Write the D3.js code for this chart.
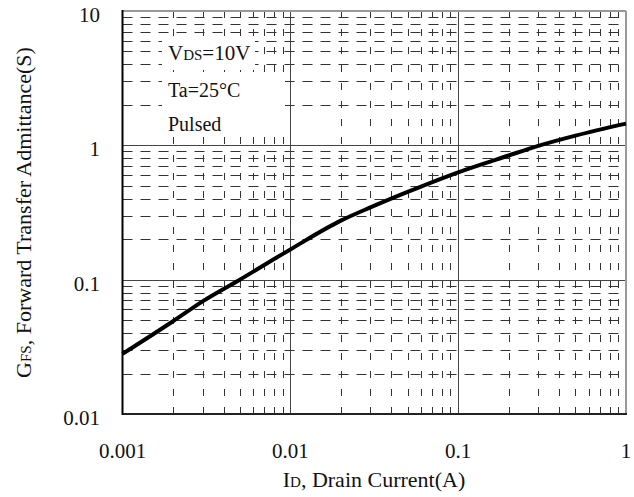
<!DOCTYPE html>
<html>
<head>
<meta charset="utf-8">
<script src="https://cdn.jsdelivr.net/npm/d3@7"></script>
<style>
  body { margin: 0; background: #fff; }
  svg text { font-family: "Liberation Serif", "DejaVu Serif", serif; fill: #111; }
</style>
</head>
<body>
<svg id="chart" width="634" height="497"></svg>
<script>
// drain current (A) and forward transfer admittance (S)
var currentA = [0.001, 0.002, 0.003, 0.005, 0.01, 0.02, 0.03, 0.05, 0.1, 0.2, 0.3, 0.5, 1]
var admittanceS = [0.028, 0.049, 0.069, 0.1, 0.168, 0.275, 0.345, 0.45, 0.63, 0.84, 0.99, 1.18, 1.45]

var xTicks = [0.001, 0.01, 0.1, 1]
var yTicks = [0.01, 0.1, 1, 10]
var xTickLabels = ['0.001', '0.01', '0.1', '1']
var yTickLabels = ['0.01', '0.1', '1', '10']
var notes = ['Ta=25°C', 'Pulsed']

var svg = d3.select('#chart')

var plotLeft = 122.5, plotRight = 626, plotTop = 11, plotBottom = 414

var x = d3.scaleLog().domain([0.001, 1]).range([plotLeft, plotRight])
var y = d3.scaleLog().domain([0.01, 10]).range([plotBottom, plotTop])

// minor values 2..9 in every decade
function minors (lo, hi) {
  var out = []
  for (var d = lo; d < hi * 0.999; d *= 10) {
    for (var k = 2; k <= 9; k++) out.push(d * k)
  }
  return out
}

var g = svg.append('g')

// horizontal dashed grid
g.selectAll('line.hminor')
  .data(minors(0.01, 10))
  .enter().append('line')
  .attr('x1', plotLeft).attr('x2', plotRight)
  .attr('y1', d => Math.round(y(d)) + 0.5).attr('y2', d => Math.round(y(d)) + 0.5)
  .style('stroke', '#333')
  .style('stroke-width', 1)
  .style('stroke-dasharray', '10,8')

// vertical dashed grid
g.selectAll('line.vminor')
  .data(minors(0.001, 1))
  .enter().append('line')
  .attr('x1', d => Math.round(x(d)) + 0.5).attr('x2', d => Math.round(x(d)) + 0.5)
  .attr('y1', plotTop).attr('y2', plotBottom)
  .style('stroke', '#333')
  .style('stroke-width', 1)
  .style('stroke-dasharray', '7,11')

// white boxes behind the notes
g.append('rect').attr('x', 162).attr('y', 37).attr('width', 93).attr('height', 33).style('fill', '#fff')
g.append('rect').attr('x', 162).attr('y', 79).attr('width', 123).attr('height', 57).style('fill', '#fff')

// decade lines
g.selectAll('line.vmajor')
  .data([0.01, 0.1])
  .enter().append('line')
  .attr('x1', d => Math.round(x(d)) + 0.5).attr('x2', d => Math.round(x(d)) + 0.5)
  .attr('y1', plotTop).attr('y2', plotBottom)
  .style('stroke', '#444').style('stroke-width', 1)

g.selectAll('line.hmajor')
  .data([0.1, 1])
  .enter().append('line')
  .attr('x1', plotLeft).attr('x2', plotRight)
  .attr('y1', d => Math.round(y(d)) + 0.5).attr('y2', d => Math.round(y(d)) + 0.5)
  .style('stroke', '#444').style('stroke-width', 1)

// frame
g.append('line').attr('x1', plotLeft).attr('x2', plotRight).attr('y1', plotTop).attr('y2', plotTop)
  .style('stroke', '#999').style('stroke-width', 2)
g.append('line').attr('x1', plotRight).attr('x2', plotRight).attr('y1', plotTop).attr('y2', plotBottom)
  .style('stroke', '#999').style('stroke-width', 2)
g.append('line').attr('x1', plotLeft).attr('x2', plotLeft).attr('y1', plotTop - 1).attr('y2', plotBottom + 1)
  .style('stroke', '#000').style('stroke-width', 2)
g.append('line').attr('x1', plotLeft).attr('x2', plotRight + 1).attr('y1', plotBottom).attr('y2', plotBottom)
  .style('stroke', '#222').style('stroke-width', 2)

// curve
var line = d3.line()
  .x(d => x(d[0]))
  .y(d => y(d[1]))
  .curve(d3.curveMonotoneX)

g.append('path')
  .datum(d3.zip(currentA, admittanceS))
  .attr('d', line)
  .style('fill', 'none')
  .style('stroke', '#000')
  .style('stroke-width', 4)
  .style('stroke-linejoin', 'round')

// tick labels
svg.selectAll('text.xt')
  .data(xTicks)
  .enter().append('text')
  .attr('x', d => x(d)).attr('y', 458)
  .attr('text-anchor', 'middle')
  .style('font-size', '21px')
  .text((d, i) => xTickLabels[i])

svg.selectAll('text.yt')
  .data(yTicks)
  .enter().append('text')
  .attr('x', 100).attr('y', d => y(d) + 11)
  .attr('text-anchor', 'end')
  .style('font-size', '21px')
  .text((d, i) => yTickLabels[i])

// notes
var vds = svg.append('text').attr('x', 168).attr('y', 60).style('font-size', '21px')
vds.append('tspan').text('V')
vds.append('tspan').style('font-size', '15px').text('DS')
vds.append('tspan').text('=10V')

svg.selectAll('text.note')
  .data(notes)
  .enter().append('text')
  .attr('x', 168).attr('y', (d, i) => 97 + i * 34)
  .style('font-size', '20px')
  .text(d => d)

// axis titles
var xt = svg.append('text').attr('x', 374).attr('y', 487)
  .attr('text-anchor', 'middle').style('font-size', '22px')
xt.append('tspan').text('I')
xt.append('tspan').style('font-size', '15px').text('D')
xt.append('tspan').text(', Drain Current(A)')

var yt = svg.append('text')
  .attr('transform', 'translate(31,' + ((plotTop + plotBottom) / 2) + ') rotate(-90)')
  .attr('text-anchor', 'middle').style('font-size', '22px')
yt.append('tspan').text('G')
yt.append('tspan').style('font-size', '15px').text('FS')
yt.append('tspan').text(', Forward Transfer Admittance(S)')
</script>
</body>
</html>
